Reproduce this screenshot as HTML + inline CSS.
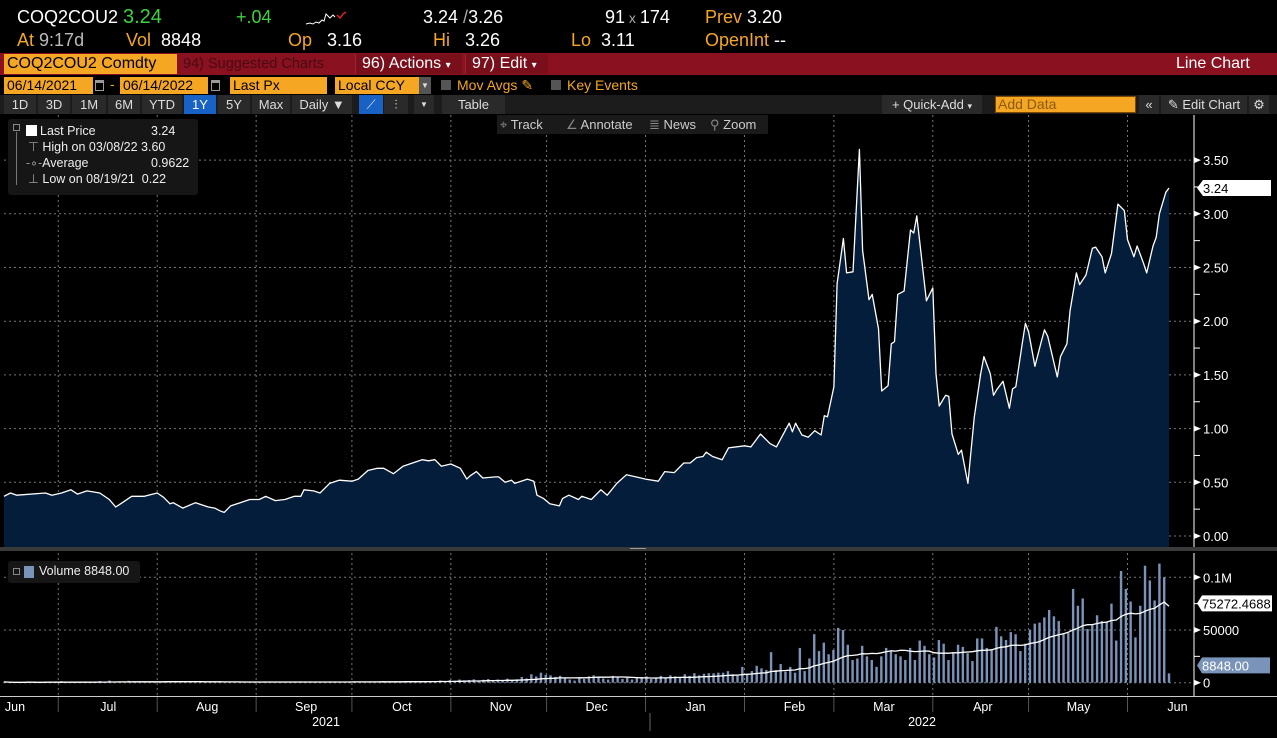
<!DOCTYPE html>
<html><head><meta charset="utf-8">
<style>
*{margin:0;padding:0;box-sizing:border-box}
body{width:1277px;height:738px;background:#000;overflow:hidden;position:relative;font-family:"Liberation Sans Narrow","Liberation Sans",sans-serif;color:#fff}
.a{position:absolute;white-space:nowrap}
.t1{font-size:18px;top:7px}
.t2{font-size:18px;top:30px}
.or{color:#f5a623}
.gr{color:#3fd23f}
.btn{position:absolute;top:95px;height:19px;background:#2a2a2a;font-size:13px;line-height:19px;text-align:center;color:#ddd}
.ob{position:absolute;top:77px;height:17px;background:#f5a623;color:#000;font-size:14px;line-height:17px;padding-left:3px}
</style></head><body>
<div class="a t1" style="left:17px">COQ2COU2</div>
<div class="a t1 gr" style="left:123px;font-size:20px;top:6px">3.24</div>
<div class="a t1 gr" style="left:236px">+.04</div>
<svg class="a" style="left:304px;top:6px" width="44" height="22"><polyline points="2,18 6,17 9,18 12,16 15,17 18,14 20,15 22,8 24,10 26,12 29,9 31,11" fill="none" stroke="#fff" stroke-width="1"/><polyline points="33,9 36,12 39,8 42,6" fill="none" stroke="#e02020" stroke-width="1.5"/></svg>
<div class="a t1" style="left:423px">3.24 <span style="color:#aaa">/</span>3.26</div>
<div class="a t1" style="left:605px">91<span style="color:#aaa;font-size:14px"> x </span>174</div>
<div class="a t1" style="left:705px"><span class="or">Prev</span> 3.20</div>
<div class="a t2" style="left:17px"><span class="or">At</span> <span style="color:#bbb">9:17d</span></div>
<div class="a t2" style="left:126px"><span class="or">Vol</span>&nbsp;&nbsp;8848</div>
<div class="a t2" style="left:288px"><span class="or">Op</span>&nbsp;&nbsp;&nbsp;3.16</div>
<div class="a t2" style="left:433px"><span class="or">Hi</span>&nbsp;&nbsp;&nbsp;3.26</div>
<div class="a t2" style="left:571px"><span class="or">Lo</span>&nbsp;&nbsp;3.11</div>
<div class="a t2" style="left:705px"><span class="or">OpenInt</span> --</div>

<div class="a" style="left:0;top:53px;width:1277px;height:22px;background:#8a1120"></div>
<div class="a" style="left:4px;top:54px;width:173px;height:20px;background:#f5a623;color:#000;font-size:16px;line-height:20px;padding-left:3px">COQ2COU2 Comdty</div>
<div class="a" style="left:179px;top:54px;width:171px;height:20px;color:#4a0a12;font-size:14.5px;line-height:20px;padding-left:4px;overflow:hidden">94) Suggested Charts</div>
<div class="a" style="left:355px;top:54px;width:107px;height:20px;font-size:16px;line-height:20px;padding-left:6px;background:#7a0f1c;border-left:1px solid #a02030">96) Actions <span style="font-size:10px">▾</span></div>
<div class="a" style="left:465px;top:54px;width:83px;height:20px;font-size:16px;line-height:20px;padding-left:6px;background:#7a0f1c;border-left:1px solid #a02030">97) Edit <span style="font-size:10px">▾</span></div>
<div class="a" style="left:1176px;top:54px;font-size:16px;line-height:20px">Line Chart</div>

<div class="ob" style="left:4px;width:89px">06/14/2021</div>
<div class="a" style="left:95px;top:80px;width:9px;height:11px;border:1px solid #999;border-top-width:3px"></div>
<div class="a" style="left:110px;top:76px;font-size:14px;color:#f5a623">-</div>
<div class="ob" style="left:120px;width:88px">06/14/2022</div>
<div class="a" style="left:211px;top:80px;width:9px;height:11px;border:1px solid #999;border-top-width:3px"></div>
<div class="ob" style="left:230px;width:97px">Last Px</div>
<div class="ob" style="left:335px;width:84px">Local CCY</div>
<div class="a" style="left:419px;top:77px;width:12px;height:17px;background:#555;color:#ddd;font-size:8px;text-align:center;line-height:17px">▼</div>
<div class="a" style="left:441px;top:80px;width:10px;height:10px;background:#555"></div>
<div class="a or" style="left:457px;top:77px;font-size:14px">Mov Avgs ✎</div>
<div class="a" style="left:551px;top:80px;width:10px;height:10px;background:#555"></div>
<div class="a or" style="left:567px;top:77px;font-size:14px">Key Events</div>

<div class="a" style="left:0;top:95px;width:1277px;height:19px;background:#1c1c1c"></div>
<div class="btn" style="left:4px;width:32px">1D</div>
<div class="btn" style="left:38px;width:32px">3D</div>
<div class="btn" style="left:72px;width:34px">1M</div>
<div class="btn" style="left:108px;width:32px">6M</div>
<div class="btn" style="left:142px;width:40px">YTD</div>
<div class="btn" style="left:184px;width:32px;background:#1762c4;color:#fff">1Y</div>
<div class="btn" style="left:218px;width:32px">5Y</div>
<div class="btn" style="left:252px;width:38px">Max</div>
<div class="btn" style="left:292px;width:60px">Daily ▼</div>
<div class="btn" style="left:359px;width:24px;background:#1762c4">⟋</div>
<div class="btn" style="left:384px;width:24px">⫶</div>
<div class="btn" style="left:414px;width:20px;font-size:8px">▼</div>
<div class="btn" style="left:442px;width:63px">Table</div>
<div class="btn" style="left:882px;width:100px">+ Quick-Add <span style="font-size:9px">▾</span></div>
<div class="a" style="left:995px;top:96px;width:141px;height:17px;background:#f5a623;border:1px solid #7a4a00;color:#8a5a10;font-size:14px;line-height:15px;padding-left:2px">Add Data</div>
<div class="btn" style="left:1139px;width:20px">«</div>
<div class="btn" style="left:1161px;width:86px">✎ Edit Chart</div>
<div class="btn" style="left:1249px;width:20px">⚙</div>

<svg class="a" style="left:0;top:0" width="1277" height="738" id="chart"></svg>

<div class="a" style="left:497px;top:115px;width:271px;height:19px;background:#1a1a1a"></div>
<div class="a" style="left:500px;top:117px;font-size:13px;color:#ccc"><span style="color:#888">⌖</span> Track</div>
<div class="a" style="left:566px;top:117px;font-size:13px;color:#ccc"><span style="color:#888">∠</span> Annotate</div>
<div class="a" style="left:649px;top:117px;font-size:13px;color:#ccc"><span style="color:#888">≣</span> News</div>
<div class="a" style="left:710px;top:117px;font-size:13px;color:#ccc"><span style="color:#888">⚲</span> Zoom</div>

<div class="a" style="left:8px;top:119px;width:190px;height:76px;background:#161616;border-radius:3px;font-family:'Liberation Sans',sans-serif;font-size:12.5px;line-height:16px;color:#eee">
<div class="a" style="left:5px;top:5px;width:7px;height:7px;border:1px solid #888"></div>
<div class="a" style="left:8px;top:13px;width:1px;height:53px;background:#777"></div>
<div class="a" style="left:18px;top:6px;width:11px;height:11px;background:#fff"></div>
<div class="a" style="left:32px;top:4px">Last Price</div><div class="a" style="left:143px;top:4px">3.24</div>
<div class="a" style="left:20px;top:20px"><span style="color:#999">⊤</span> High on 03/08/22 3.60</div>
<div class="a" style="left:18px;top:36px"><span style="color:#999">-∘-</span>Average</div><div class="a" style="left:143px;top:36px">0.9622</div>
<div class="a" style="left:20px;top:52px"><span style="color:#999">⊥</span> Low on 08/19/21&nbsp; 0.22</div>
</div>

<div class="a" style="left:8px;top:561px;width:132px;height:22px;background:#161616;border-radius:3px;font-family:'Liberation Sans',sans-serif;font-size:12.5px;color:#eee">
<div class="a" style="left:5px;top:7px;width:7px;height:7px;border:1px solid #888"></div>
<div class="a" style="left:16px;top:5px;width:10px;height:12px;background:#7a93b8"></div>
<div class="a" style="left:31px;top:3px">Volume 8848.00</div>
</div>

<script>
const priceDays=[0,2,4,13,15,18,21,23,26,30,33,35,36,40,44,48,50,52,53,56,60,64,66,68,69,71,74,77,80,82,85,88,91,93,94,97,99,102,105,109,111,114,117,119,122,125,128,131,133,135,137,140,143,145,146,148,150,154,155,157,159,160,164,166,167,169,171,174,175,177,180,181,184,187,189,192,195,198,201,205,207,210,213,215,217,219,220,222,225,227,232,234,237,240,242,246,247,248,250,252,254,256,257,258,260,261,263,264,266,268,269,271,272,274,275,277,278,279,280,282,284,285,286,289,291,292,293,295,296,297,299,300,302,304,306,307,309,310,311,313,315,316,317,319,320,321,323,325,326,327,330,331,333,334,336,337,339,341,342,344,345,347,349,351,352,354,355,357,358,360,361,362,364,365];
const priceValues=[.37,.40,.38,.40,.38,.40,.43,.39,.42,.40,.34,.27,.29,.37,.37,.40,.36,.30,.31,.26,.31,.27,.26,.23,.22,.28,.31,.34,.34,.37,.33,.34,.37,.37,.43,.42,.40,.49,.52,.51,.53,.61,.63,.63,.58,.65,.68,.71,.70,.71,.65,.67,.63,.53,.56,.60,.54,.55,.55,.50,.52,.49,.53,.51,.38,.35,.30,.28,.35,.38,.34,.37,.34,.43,.38,.49,.57,.55,.53,.51,.60,.59,.68,.68,.73,.74,.78,.74,.71,.82,.84,.83,.95,.86,.83,1.05,.97,1.05,.94,.92,.98,.94,1.12,1.11,1.39,2.35,2.77,2.45,2.46,3.60,2.66,2.20,2.25,1.93,1.35,1.40,1.79,1.81,2.25,2.28,2.85,2.82,2.98,2.19,2.31,1.51,1.21,1.31,1.30,.95,.76,.80,.49,1.11,1.51,1.67,1.51,1.31,1.36,1.44,1.19,1.37,1.39,1.79,1.98,1.90,1.58,1.81,1.92,1.86,1.48,1.67,1.79,2.10,2.45,2.34,2.43,2.68,2.69,2.60,2.45,2.63,3.09,3.03,2.76,2.60,2.70,2.54,2.45,2.70,2.78,3.00,3.20,3.24];
const volumeValues=[800,300,0,500,200,1200,300,0,400,900,200,600,1500,300,0,800,400,1200,300,500,1600,700,2000,900,1200,600,1800,1000,500,800,1200,700,900,600,1100,400,900,600,300,700,1500,500,800,400,1000,600,300,700,500,900,400,800,600,1100,500,700,300,900,600,400,800,500,1000,700,400,600,900,500,1200,800,600,1000,700,1300,500,900,1100,600,800,1400,700,1000,1200,900,1500,800,1300,1000,1600,1200,
1500,2000,1200,2500,1800,3000,2200,2600,3200,2000,2800,3500,2400,3000,2000,3800,2600,3200,5500,4000,
8000,6000,9500,7500,7000,5500,6500,4000,3000,2000,4500,3500,6000,7000,5500,4000,3000,6500,5000,3500,4500,3000,5000,4000,6000,3500,5000,6500,4000,7000,6000,5000,8000,6500,9000,7000,8500,9000,
8900,9500,9500,11000,8000,6600,15000,8500,11000,16000,13600,12000,29000,12000,17700,10500,15000,9500,33000,11000,23000,46000,30000,38000,27000,31000,52000,50000,36000,21500,23000,35000,25000,21500,15000,25000,33000,30000,27000,25000,21500,33000,21500,40000,35000,27000,24000,40500,37000,21500,29000,36000,34000,28000,20500,42000,42000,33000,32000,53000,44000,40500,48000,46000,30000,37000,50000,56000,57000,62000,69000,63000,58500,47000,47000,89000,73000,80000,51000,55000,64000,58500,57600,75000,40000,106000,89000,77000,43000,73000,111000,97000,78000,113000,100000,8848];
const priceTicks=[0,0.5,1,1.5,2,2.5,3,3.5];
const priceTickLabels=["0.00","0.50","1.00","1.50","2.00","2.50","3.00","3.50"];
const volTicks=[0,50000,100000];
const volTickLabels=["0","50000","0.1M"];
const monthStarts=[17,48,79,109,140,170,201,232,260,291,321,352];
const monthLabels=["Jun","Jul","Aug","Sep","Oct","Nov","Dec","Jan","Feb","Mar","Apr","May","Jun"];

const NS="http://www.w3.org/2000/svg";
const svg=document.getElementById('chart');
const X0=4,X1=1169,DMAX=365;
const xS=d=>X0+(d/DMAX)*(X1-X0);
const yP=v=>536-v*107.4;
const yV=v=>682.7-v*0.001054;
function mk(tag,attrs,parent){const e=document.createElementNS(NS,tag);for(const k in attrs)e.setAttribute(k,attrs[k]);(parent||svg).appendChild(e);return e;}

for(let i=0;i<priceTicks.length;i++){
  const y=yP(priceTicks[i]);
  const g=mk('line',{x1:4,x2:1194,y1:y,y2:y,stroke:'#777','stroke-dasharray':'2,3','stroke-width':1});
  
  
  mk('path',{d:`M1194 ${y-3}L1201 ${y}L1194 ${y+3}Z`,fill:'#fff'});
  const t=mk('text',{x:1203,y:y+5,fill:'#fff','font-size':13,'font-family':'Liberation Sans, sans-serif'});
  t.textContent=priceTickLabels[i];
  
  
  if(i<priceTicks.length-1){const ym=yP(priceTicks[i]+0.25);mk('line',{x1:1194,x2:1200,y1:ym,y2:ym,stroke:'#fff'});}
}
for(let i=0;i<volTicks.length;i++){
  const y=yV(volTicks[i]);
  const g=mk('line',{x1:4,x2:1194,y1:y,y2:y,stroke:'#777','stroke-dasharray':'2,3'});
  
  
  mk('path',{d:`M1194 ${y-3}L1201 ${y}L1194 ${y+3}Z`,fill:'#fff'});
  const t=mk('text',{x:1203,y:y+5,fill:'#fff','font-size':13,'font-family':'Liberation Sans, sans-serif'});
  t.textContent=volTickLabels[i];
  
  
}
mk('line',{x1:1194,x2:1200,y1:yV(25000),y2:yV(25000),stroke:'#fff'});
mk('line',{x1:1194,x2:1200,y1:yV(75000),y2:yV(75000),stroke:'#fff'});
for(const d of monthStarts){
  const x=xS(d);
  const g=mk('line',{x1:x,x2:x,y1:115,y2:547,stroke:'#777','stroke-dasharray':'2,3'});
  
  
  mk('line',{x1:x,x2:x,y1:553,y2:696,stroke:'#777','stroke-dasharray':'2,3'});
  mk('line',{x1:x,x2:x,y1:697,y2:712,stroke:'#555'});
}

let pts=priceDays.map((d,i)=>`${xS(d).toFixed(1)},${yP(priceValues[i]).toFixed(1)}`);
const area=mk('polygon',{points:`${xS(priceDays[0])},547 `+pts.join(' ')+` ${xS(priceDays[priceDays.length-1])},547`,fill:'#041d3a'});


const line=mk('polyline',{points:pts.join(' '),fill:'none',stroke:'#fff','stroke-width':1.3,'stroke-linejoin':'round'});



mk('line',{x1:1194,x2:1194,y1:115,y2:547,stroke:'#fff'});
mk('line',{x1:1194,x2:1194,y1:553,y2:696,stroke:'#fff'});
mk('rect',{x:0,y:547,width:1277,height:4,fill:'#3a3a3a'});
mk('rect',{x:630,y:548,width:16,height:1,fill:'#999'});
mk('line',{x1:0,x2:1277,y1:696.5,y2:696.5,stroke:'#ccc'});

const N=volumeValues.length;
const vd=i=>i*DMAX/(N-1);
for(let i=0;i<N;i++){
  const v=volumeValues[i];
  const b=mk('rect',{x:xS(vd(i))-1.2,y:yV(v),width:2.4,height:Math.max(0,682.7-yV(v)),fill:'#7a93b8'});
  
  
}
const ma=[];
for(let i=0;i<N;i++){let s=0,c=0;for(let j=Math.max(0,i-19);j<=i;j++){s+=volumeValues[j];c++;}ma.push(s/c);}
const maL=mk('polyline',{points:ma.map((m,i)=>`${xS(vd(i)).toFixed(1)},${yV(m).toFixed(1)}`).join(' '),fill:'none',stroke:'#fff','stroke-width':1.3});



const lp=priceValues[priceValues.length-1];
const lpy=yP(lp);
const lpb=mk('path',{d:`M1197 ${lpy}L1203 ${lpy-8}H1271V${lpy+8}H1203Z`,fill:'#fff'});


const lpt=mk('text',{x:1203,y:lpy+5,fill:'#000','font-size':13,'font-family':'Liberation Sans, sans-serif'});lpt.textContent=lp.toFixed(2);
const lmy=yV(75272);
const mb=mk('path',{d:`M1197 ${lmy}L1202 ${lmy-8}H1272V${lmy+8}H1202Z`,fill:'#fff'});


const mt=mk('text',{x:1202,y:lmy+5,fill:'#000','font-size':13,'font-family':'Liberation Sans, sans-serif'});mt.textContent='75272.4688';
const lv=volumeValues[N-1],lvy=yV(lv)-8;
const vb=mk('path',{d:`M1197 ${lvy}L1202 ${lvy-8}H1270V${lvy+8}H1202Z`,fill:'#7a93b8'});


const vt=mk('text',{x:1202,y:lvy+5,fill:'#fff','font-size':13,'font-family':'Liberation Sans, sans-serif'});vt.textContent=lv.toFixed(2);

for(let i=0;i<monthLabels.length;i++){
  const x=i===0?15:xS(monthStarts[i-1])+50;
  const t=mk('text',{x:x,y:711,fill:'#fff','font-size':12.5,'text-anchor':'middle','font-family':'Liberation Sans, sans-serif'});
  t.textContent=monthLabels[i];
  
  
}
mk('line',{x1:650,x2:650,y1:713,y2:731,stroke:'#666'});
const y1=mk('text',{x:326,y:726,fill:'#fff','font-size':12.5,'text-anchor':'middle','font-family':'Liberation Sans, sans-serif'});y1.textContent='2021';


const y2=mk('text',{x:922,y:726,fill:'#fff','font-size':12.5,'text-anchor':'middle','font-family':'Liberation Sans, sans-serif'});y2.textContent='2022';


</script>
</body></html>
